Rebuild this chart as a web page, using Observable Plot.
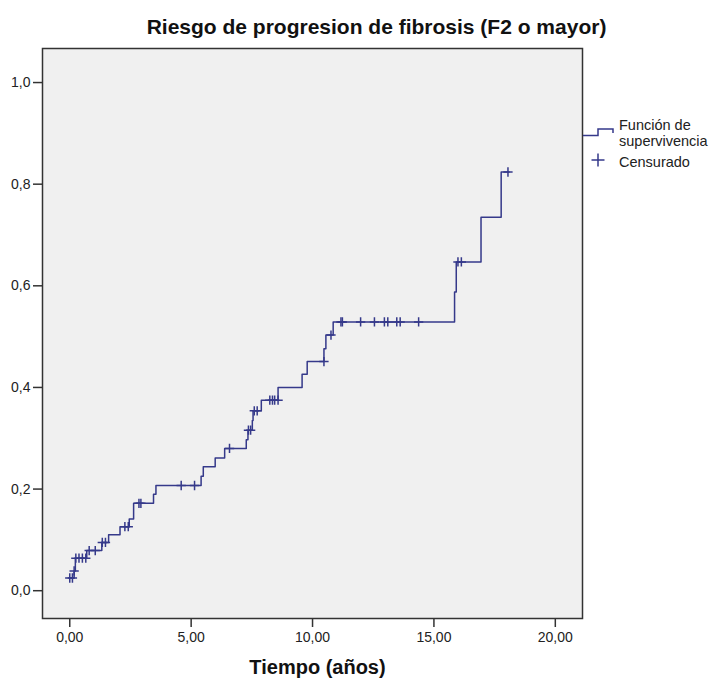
<!DOCTYPE html>
<html>
<head>
<meta charset="utf-8">
<script src="https://cdn.jsdelivr.net/npm/d3@7"></script>
<script src="https://cdn.jsdelivr.net/npm/@observablehq/plot@0.6"></script>
<style>
  body { margin: 0; background: #fff; font-family: "Liberation Sans", Arial, sans-serif; }
  #wrap { position: relative; width: 710px; height: 681px; }
  #wrap > svg { position: absolute; left: 0; top: 0; }
  #legend { pointer-events: none; }
</style>
</head>
<body>
<div id="wrap"></div>
<script>
// Step function (cumulative risk of progression)
const stepTime = [0, 0.18, 0.23, 0.70, 1.32, 1.60, 2.07, 2.45, 2.63, 3.45, 3.55, 5.41, 5.50, 5.99, 6.38, 7.27, 7.34, 7.52, 7.55, 7.89, 8.58, 9.57, 9.78, 10.47, 10.55, 10.85, 15.85, 15.92, 16.94, 17.77, 18.10];
const stepRisk = [0.025, 0.039, 0.064, 0.079, 0.095, 0.110, 0.126, 0.141, 0.172, 0.190, 0.207, 0.225, 0.244, 0.261, 0.280, 0.297, 0.316, 0.335, 0.354, 0.375, 0.400, 0.426, 0.451, 0.476, 0.503, 0.529, 0.588, 0.647, 0.735, 0.824, 0.824];

// Censored observations
const censorTime = [0.00, 0.11, 0.18, 0.25, 0.38, 0.52, 0.66, 0.80, 1.05, 1.34, 1.47, 2.27, 2.41, 2.85, 2.93, 4.59, 5.14, 6.58, 7.36, 7.45, 7.60, 7.72, 8.24, 8.35, 8.44, 8.58, 10.47, 10.76, 11.17, 11.23, 11.98, 12.55, 12.96, 13.10, 13.47, 13.61, 14.37, 15.99, 16.13, 18.05];
const censorRisk = [0.025, 0.025, 0.039, 0.064, 0.064, 0.064, 0.064, 0.079, 0.079, 0.095, 0.095, 0.126, 0.126, 0.172, 0.172, 0.207, 0.207, 0.280, 0.316, 0.316, 0.354, 0.354, 0.375, 0.375, 0.375, 0.375, 0.451, 0.503, 0.529, 0.529, 0.529, 0.529, 0.529, 0.529, 0.529, 0.529, 0.529, 0.647, 0.647, 0.824];

const xTicks = [0, 5, 10, 15, 20];
const yTicks = [0, 0.2, 0.4, 0.6, 0.8, 1.0];

const titleText = "Riesgo de progresion de fibrosis (F2 o mayor)";
const xLabelText = "Tiempo (años)";
const legendLabels = ["Función de", "supervivencia", "Censurado"];

const steps = stepTime.map((t, i) => ({t, r: stepRisk[i]}));
const censors = censorTime.map((t, i) => ({t, r: censorRisk[i]}));

const lineColor = "#35398a";
const fmtX = d => d.toFixed(2).replace(".", ",");
const fmtY = d => d.toFixed(1).replace(".", ",");

const chart = Plot.plot({
  width: 710,
  height: 681,
  marginLeft: 42,
  marginRight: 128,
  marginTop: 48,
  marginBottom: 63,
  style: {fontFamily: "'Liberation Sans', Arial, sans-serif", background: "transparent", color: "#222"},
  x: {domain: [-1.123, 21.12]},
  y: {domain: [-0.0547, 1.067]},
  marks: [
    Plot.frame({fill: "#f0f0f0", stroke: null}),
    Plot.axisX({ticks: xTicks, tickFormat: fmtX, tickSize: 9, tickPadding: 5, fontSize: 14, label: null, stroke: "#333", strokeWidth: 1.5}),
    Plot.axisY({ticks: yTicks, tickFormat: fmtY, tickSize: 9, tickPadding: 3, fontSize: 14, label: null, stroke: "#333", strokeWidth: 1.5}),
    Plot.line(steps, {x: "t", y: "r", curve: "step-after", stroke: lineColor, strokeWidth: 1.5}),
    Plot.dot(censors, {x: "t", y: "r", symbol: "plus", r: 3.1, stroke: lineColor, strokeWidth: 1.5}),
    Plot.frame({stroke: "#333", strokeWidth: 1.5}),
    Plot.text([titleText], {frameAnchor: "top", dx: 64, dy: -29, fontSize: 21, fontWeight: "bold", fill: "#111"}),
    Plot.text([xLabelText], {frameAnchor: "bottom", dx: 5, dy: 55, fontSize: 20, fontWeight: "bold", fill: "#111"})
  ]
});

const wrap = document.getElementById("wrap");
wrap.appendChild(chart);

// Legend (right side), drawn as an overlay
const leg = d3.create("svg").attr("id", "legend").attr("width", 710).attr("height", 681)
  .style("font-family", "'Liberation Sans', Arial, sans-serif");
leg.append("path").attr("d", "M583,135.5H598V129H613V133").attr("fill", "none").attr("stroke", lineColor).attr("stroke-width", 1.5);
leg.append("path").attr("d", "M591.5,160H604.5M598,153.5V166.5").attr("fill", "none").attr("stroke", lineColor).attr("stroke-width", 1.5);
const ly = [130, 146, 166.5];
legendLabels.forEach((s, i) => {
  leg.append("text").attr("x", 619).attr("y", ly[i]).attr("font-size", 14.5).attr("fill", "#222").text(s);
});
wrap.appendChild(leg.node());
</script>
</body>
</html>
